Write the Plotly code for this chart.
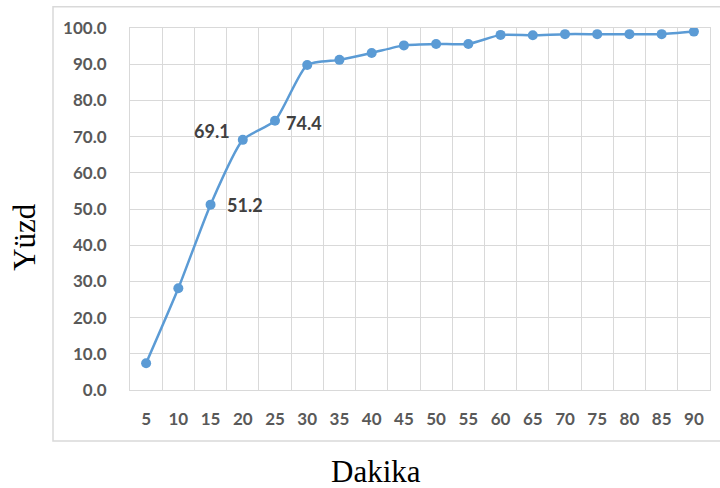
import plotly.graph_objects as go

minutes = [5, 10, 15, 20, 25, 30, 35, 40, 45, 50, 55, 60, 65, 70, 75, 80, 85, 90]
percent = [7.4, 28.1, 51.2, 69.1, 74.4, 89.8, 91.2, 93.1, 95.2, 95.6, 95.6, 98.1, 98.0, 98.3, 98.3, 98.3, 98.3, 99.0]
tick_labels = [str(m) for m in minutes]
y_ticks = [0, 10, 20, 30, 40, 50, 60, 70, 80, 90, 100]
y_tick_labels = [f"{v:.1f}" for v in y_ticks]
labelled = {15: "right", 20: "left", 25: "right"}

x_title = "Dakika"
y_title = "Yüzd"

BLUE = "#5B9BD5"
GRID = "#D9D9D9"
TICK = "#595959"

fig = go.Figure()
fig.add_trace(go.Scatter(
    x=minutes, y=percent, mode="lines+markers",
    line=dict(color=BLUE, width=2.5, shape="spline", smoothing=0.6),
    marker=dict(color=BLUE, size=10),
    showlegend=False, hoverinfo="skip",
))

annotations = []
for m, v in zip(minutes, percent):
    if m in labelled:
        side = labelled[m]
        if side == "right":
            annotations.append(dict(x=m, y=v, xref="x", yref="y", text=f"{v:.1f}",
                                    showarrow=False, xanchor="left", yanchor="middle",
                                    xshift=9 if m == 25 else 14, yshift=0 if m == 15 else -2,
                                    font=dict(family="Lato", size=18, color="#404040", weight="bold")))
        else:
            annotations.append(dict(x=m, y=v, xref="x", yref="y", text=f"{v:.1f}",
                                    showarrow=False, xanchor="right", yanchor="middle",
                                    xshift=-11, yshift=9,
                                    font=dict(family="Lato", size=18, color="#404040", weight="bold")))

annotations.append(dict(x=(376 - 130) / 580, y=(390 - 471) / 361.7, xref="paper", yref="paper",
                        text=x_title, showarrow=False, xanchor="center", yanchor="middle",
                        font=dict(family="Liberation Serif", size=31, color="black")))
annotations.append(dict(x=(25 - 130) / 580, y=(390 - 237) / 361.7, xref="paper", yref="paper",
                        text=y_title, showarrow=False, xanchor="center", yanchor="middle",
                        textangle=-90,
                        font=dict(family="Liberation Serif", size=31, color="black")))

fig.update_layout(
    width=720, height=488,
    margin=dict(l=130, r=10, t=28, b=98),
    paper_bgcolor="white", plot_bgcolor="white",
    annotations=annotations,
    shapes=[dict(type="rect", xref="paper", yref="paper",
                 x0=(53 - 130) / 580, x1=(730 - 130) / 580,
                 y0=(390 - 441) / 361.7, y1=(390 - 7) / 361.7,
                 line=dict(color=GRID, width=1.5), layer="below")],
    xaxis=dict(
        range=[2.5, 92.5], tickmode="array", tickvals=minutes, ticktext=tick_labels,
        showgrid=False, zeroline=False,
        showline=True, mirror=True, linecolor=GRID, linewidth=1,
        ticks="", ticklabelstandoff=14,
        tickfont=dict(family="Lato", size=17, color=TICK, weight="bold"),
        minor=dict(tick0=2.5, dtick=5, showgrid=True, gridcolor=GRID, gridwidth=1),
    ),
    yaxis=dict(
        range=[0, 100], tickmode="array", tickvals=y_ticks, ticktext=y_tick_labels,
        showgrid=True, gridcolor=GRID, gridwidth=1, zeroline=False,
        showline=True, mirror=True, linecolor=GRID, linewidth=1,
        ticks="", ticklabelstandoff=19,
        tickfont=dict(family="Lato", size=17, color=TICK, weight="bold"),
    ),
)

fig.write_html("out.html", config={"displayModeBar": False},
               post_script="document.body.style.margin='0';document.body.style.overflow='hidden';")
